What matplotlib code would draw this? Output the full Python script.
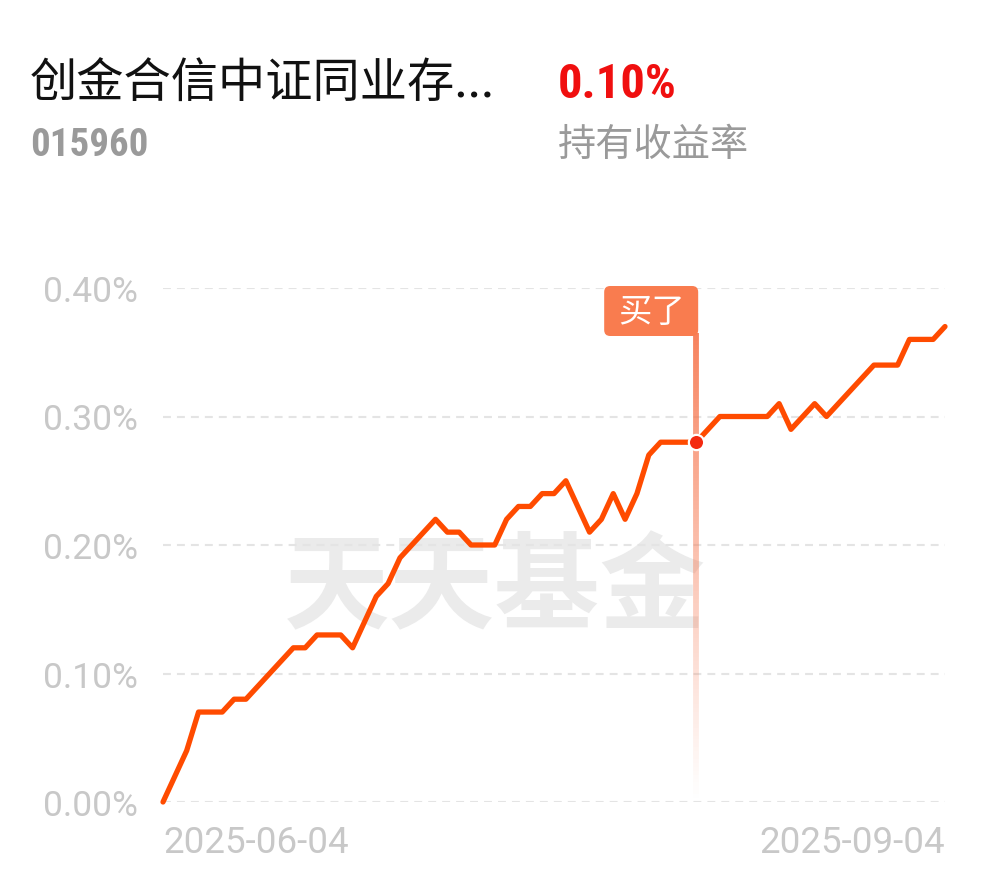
import matplotlib
matplotlib.use("Agg")
import matplotlib.pyplot as plt
import matplotlib.transforms as mtransforms
from matplotlib.patches import FancyBboxPatch
from matplotlib.collections import LineCollection
import numpy as np

plt.rcParams['font.family'] = ['Noto Sans CJK SC', 'DejaVu Sans']

# ---------------- data ----------------
fund_name = "创金合信中证同业存..."
fund_code = "015960"
holding_return = "0.10%"
holding_label = "持有收益率"
watermark = "天天基金"
buy_label = "买了"
date_labels = ["2025-06-04", "2025-09-04"]
ytick_values = [0.00, 0.10, 0.20, 0.30, 0.40]
ytick_labels = ["0.00%", "0.10%", "0.20%", "0.30%", "0.40%"]
returns = [0.00, 0.02, 0.04, 0.07, 0.07, 0.07, 0.08, 0.08, 0.09, 0.10,
           0.11, 0.12, 0.12, 0.13, 0.13, 0.13, 0.12, 0.14, 0.16, 0.17,
           0.19, 0.20, 0.21, 0.22, 0.21, 0.21, 0.20, 0.20, 0.20, 0.22,
           0.23, 0.23, 0.24, 0.24, 0.25, 0.23, 0.21, 0.22, 0.24, 0.22,
           0.24, 0.27, 0.28, 0.28, 0.28, 0.28, 0.29, 0.30, 0.30, 0.30,
           0.30, 0.30, 0.31, 0.29, 0.30, 0.31, 0.30, 0.31, 0.32, 0.33,
           0.34, 0.34, 0.34, 0.36, 0.36, 0.36, 0.37]
buy_index = 45

# ---------------- figure ----------------
W, H = 990, 878
fig = plt.figure(figsize=(W / 100, H / 100), dpi=100)
fig.patch.set_facecolor('white')

narrow = ['Liberation Sans Narrow', 'Roboto Condensed', 'Roboto', 'DejaVu Sans']

fig.text(30 / W, 1 - 85 / H, fund_name, fontsize=34, color='#111111',
         ha='left', va='center')
fig.text(30 / W, 1 - 146 / H, fund_code, fontsize=28, color='#9a9a9a',
         ha='left', va='center', family=narrow, fontweight='bold')
fig.text(558 / W, 1 - 85 / H, holding_return, fontsize=35, color='#F00F0F',
         ha='left', va='center', family=narrow, fontweight='bold')
fig.text(558 / W, 1 - 146 / H, holding_label, fontsize=27.5, color='#9a9a9a',
         ha='left', va='center')

ax = fig.add_axes([163 / W, 1 - 803 / H, 782 / W, 514 / H])
ax.set_facecolor('none')
x = np.arange(len(returns))
ax.set_xlim(0, len(returns) - 1)
ax.set_ylim(0, 0.40)
for s in ax.spines.values():
    s.set_visible(False)

ax.set_yticks(ytick_values)
ax.set_yticklabels(ytick_labels, family=['Roboto', 'DejaVu Sans'],
                   fontsize=25.5, color='#c8c8c8')
ax.set_xticks([0, len(returns) - 1])
xl = ax.set_xticklabels(date_labels, family=['Roboto', 'DejaVu Sans'],
                        fontsize=26.5, color='#c8c8c8')
xl[0].set_ha('left')
xl[1].set_ha('right')
ax.tick_params(axis='y', length=0, pad=18)
ax.tick_params(axis='x', length=0, pad=16)
ax.grid(axis='y', color='#e4e4e4', linestyle=(0, (3.8, 2.9)), linewidth=1.5)
ax.set_axisbelow(True)

# watermark
ax.text(0.4246, 0.414, watermark, transform=ax.transAxes, fontsize=76,
        fontweight='bold', color='#ebebeb', ha='center', va='center', zorder=0)

# buy vertical gradient line
n = 120
top = 0.365
ys = np.linspace(0.0, top, n + 1)
segs = [[(buy_index, ys[i]), (buy_index, ys[i + 1])] for i in range(n)]
alphas = np.linspace(0.0, 0.9, n) ** 1.1
cols = [(0.965, 0.45, 0.29, a) for a in alphas]
lc = LineCollection(segs, colors=cols, linewidths=4.2, zorder=2,
                    capstyle='butt')
ax.add_collection(lc)

# main line
ax.plot(x, returns, color='#FF4B00', linewidth=3.8, solid_joinstyle='round',
        solid_capstyle='round', zorder=3, clip_on=False)
ax.plot([buy_index], [returns[buy_index]], 'o', markersize=11,
        markerfacecolor='#F42A10', markeredgecolor='white',
        markeredgewidth=1.6, zorder=4, clip_on=False)

# buy label box (offset in inches from data anchor)
trans = fig.dpi_scale_trans + mtransforms.ScaledTranslation(
    buy_index, 0.40, ax.transData)
box = FancyBboxPatch((-0.92, -0.48), 0.94, 0.50,
                     boxstyle="round,pad=0,rounding_size=0.06",
                     facecolor='#F97C4F', edgecolor='none',
                     transform=trans, zorder=5, clip_on=False)
ax.add_patch(box)
ax.text(-0.45, -0.235, buy_label, transform=trans, fontsize=24, color='white',
        ha='center', va='center', zorder=6, clip_on=False)

fig.savefig('out.png', dpi=100, facecolor='white')
